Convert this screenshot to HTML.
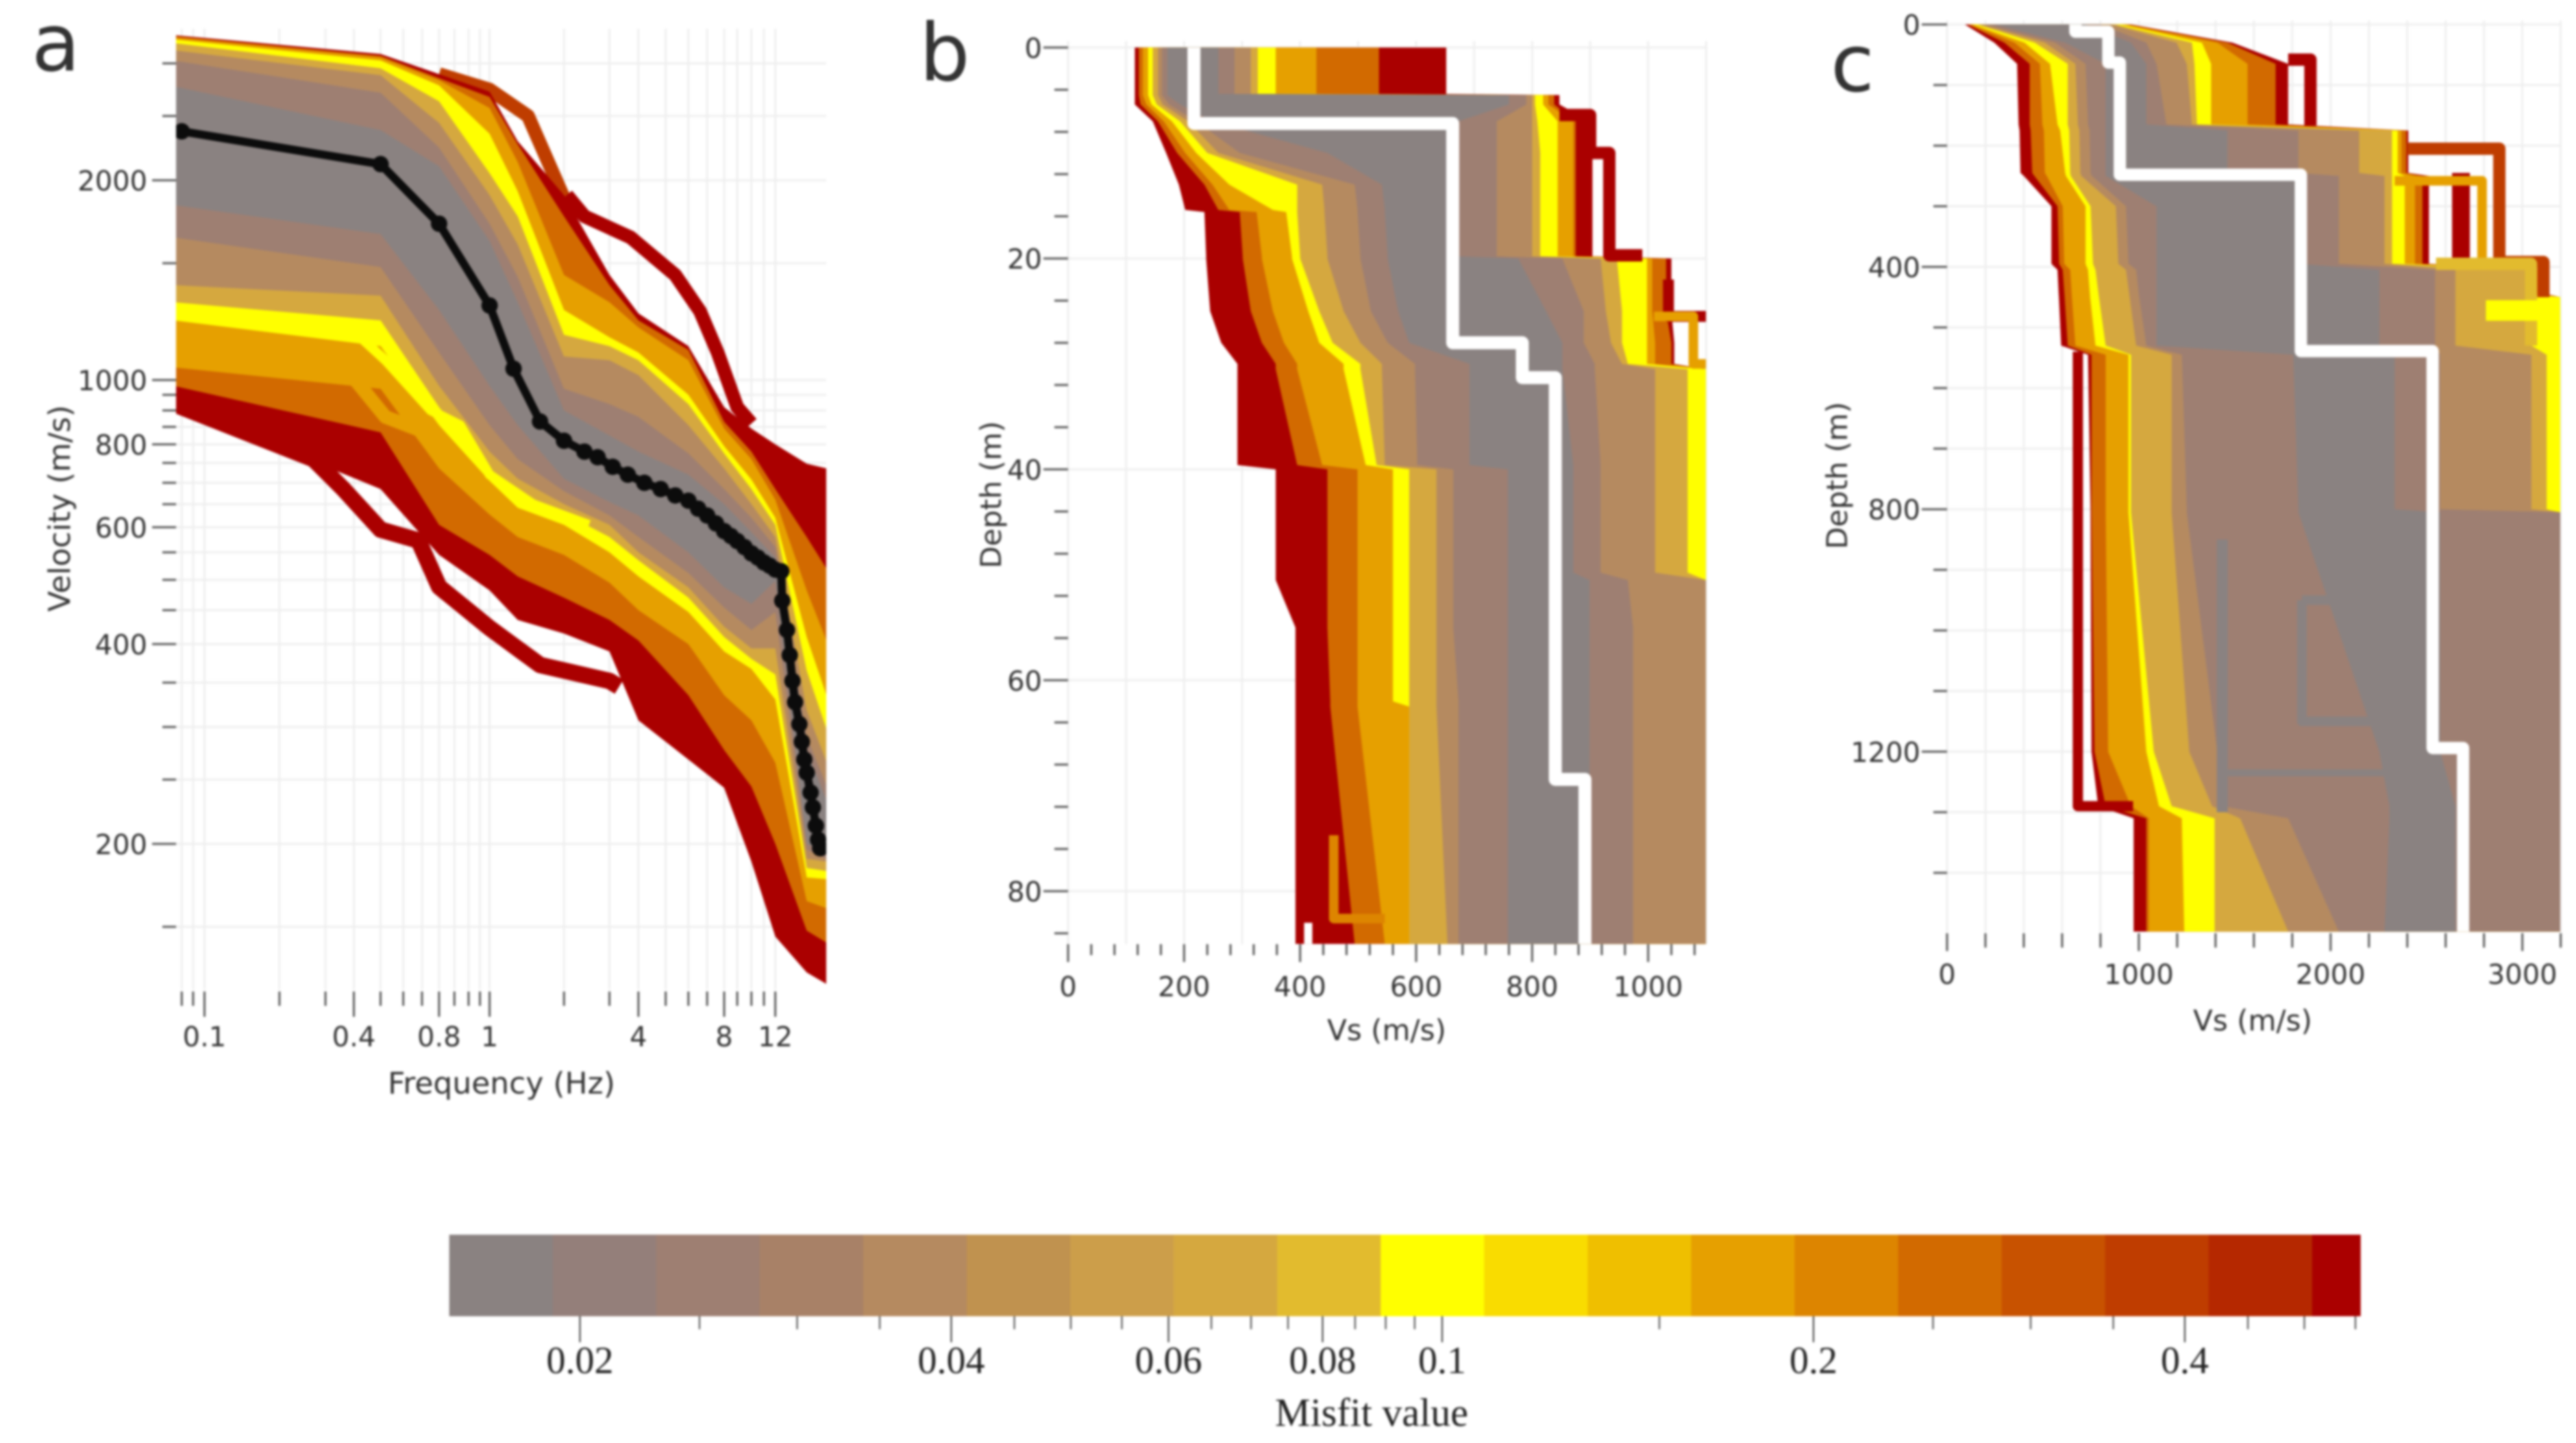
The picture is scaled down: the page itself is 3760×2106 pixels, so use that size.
<!DOCTYPE html>
<html lang="en">
<head>
<meta charset="utf-8">
<title>Dispersion curves and Vs profiles</title>
<style>
html,body{margin:0;padding:0;background:#fff;width:3760px;height:2106px;overflow:hidden}
svg{display:block;filter:blur(1.5px)}
text{font-family:"DejaVu Sans","Liberation Sans",sans-serif;fill:#333}
.serif{font-family:"Liberation Serif",serif;fill:#222}
</style>
</head>
<body>
<svg id="fig" xmlns="http://www.w3.org/2000/svg" width="3760" height="2106" viewBox="0 0 3760 2106">
<defs>
<clipPath id="clipA"><rect x="257" y="30" width="949" height="1430"/></clipPath>
<clipPath id="clipB"><rect x="1559" y="60" width="931" height="1318"/></clipPath>
<clipPath id="clipC"><rect x="2842" y="30" width="895" height="1330"/></clipPath>
</defs>
<g id="panelA"></g>
<g id="panelB"></g>
<g id="panelC"></g>
<g id="colorbar"></g>
<text x="46" y="103" font-size="116">a</text>
<text x="1342" y="117" font-size="116">b</text>
<text x="2672" y="133" font-size="116">c</text>
</svg>
<script>
/* ---------- colour scale ---------- */
const barColors = ['#8a8281','#947f7a','#9e7f72','#a88167','#b58a60','#c0924f','#cc9e4a','#d5a83f','#e2bb2e','#ffff00','#f9dc00','#efbf00','#e6a000','#dd8500','#d26a00','#c85200','#bf3d00','#b52800','#aa0000'];
const barMajorTicks = [0.02,0.04,0.06,0.08,0.1,0.2,0.4];
const barMinorTicks = [0.025,0.03,0.035,0.045,0.05,0.055,0.065,0.07,0.075,0.085,0.09,0.095,0.15,0.25,0.3,0.35,0.45,0.5,0.55];
const barMin = 0.01567, barMax = 0.555, barStep = 0.0839;
const classMisfit = [0.54,0.28,0.16,0.095,0.065,0.04,0.025,0.017];

/* ---------- panel a: dispersion curves ---------- */
const aFreq = [0.076,0.5,0.8,1,1.3,2,3,4,6,8,10,12,15.5,18.2];
const aUpRed      = [3310,3100,2890,2720,2290,1900,1440,1260,1125,910,845,800,748,736];
const aUpDkOrange = [3300,3080,2850,2670,2266,1765,1390,1230,1110,865,780,685,580,520];
const aUpOrange   = [3280,3060,2830,2570,2130,1440,1310,1200,1071,845,760,660,482,405];
const aUpYellow   = [3260,3030,2780,2350,1925,1275,1160,1100,950,795,708,620,410,335];
const aUpGold     = [3220,2950,2630,2050,1765,1170,1125,1071,920,775,685,605,365,298];
const aUpTan      = [3140,2880,2440,1900,1600,1085,1071,1017,855,736,650,580,318,266];
const aUpGreyTan  = [3030,2710,2240,1720,1430,970,920,880,775,685,620,560,290,245];
const aUpGrey     = [2770,2380,2100,1620,1310,900,825,780,720,650,590,540,277,233];
const aLoGrey     = [1835,1660,1275,980,855,710,655,625,550,487,460,498,200,194];
const aLoGreyTan  = [1640,1480,1100,855,760,680,625,580,512,454,420,447,196,190];
const aLoTan      = [1390,1340,980,780,710,650,605,550,487,425,394,394,190,188];
const aLoGold     = [1310,1230,910,736,670,630,580,535,470,410,380,360,184,182];
const aLoYellow   = [1230,1125,855,705,642,605,550,506,447,390,367,330,178,177];
const aLoOrange   = [1045,970,736,627,580,545,495,450,400,335,307,265,164,160];
const aLoDkOrange = [980,834,605,545,506,470,435,405,335,277,244,200,148,142];
const aLoRed      = [920,685,545,482,435,415,390,307,268,243,188,145,128,123];
const aOutlierTop1F = [0.8,1,1.43,2];
const aOutlierTop1V = [2890,2740,2500,1880];
const aOutlierTop2F = [2.05,2.4,3.7,5.4,6.6,7.6,9,10];
const aOutlierTop2V = [1900,1765,1640,1440,1270,1100,910,860];
const aOutlierLowF = [0.076,0.27,0.36,0.5,0.68,0.8,1,1.6,3,3.3];
const aOutlierLowV = [920,760,685,595,573,488,423,372,352,345];
const aStreakYellowF = [0.37,0.52,0.75,0.87,1,1.5,2.5];
const aStreakYellowV = [1213,1071,900,855,720,650,605];
const aStreakOrangeF = [0.39,0.52,0.72,0.87];
const aStreakOrangeV = [1017,880,834,736];
const bestFreq = [0.085,0.5,0.8,1,1.25,1.6,2,2.4,2.7,3.1,3.6,4.2,4.8,5.4,6,6.5,7,7.5,8,8.5,9,9.5,10,10.5,11,11.5,12,12.6,12.7,13.2,13.5,13.8,14.1,14.6,14.9,15.2,15.5,16,16.3,16.7,17,17.3];
const bestVel  = [2370,2115,1720,1295,1040,866,810,780,765,740,720,700,685,670,658,640,625,608,592,582,572,560,548,540,531,525,518,515,465,420,385,352,327,303,285,268,256,239,227,213,203,197];
const aXLabels = [0.1,0.4,0.8,1,4,8,12];
const aXMinor = [0.085,0.09,0.2,0.3,0.5,0.6,0.7,0.85,0.9,0.95,2,3,5,6,7,9,10,11];
const aYLabels = [2000,1000,800,600,400,200];
const aYMinor = [3000,2500,1500,950,900,850,750,700,650,550,500,450,350,300,250,150];

/* ---------- panel b: shallow Vs profiles ---------- */
const bDepth = [0,4.4,4.5,5.4,7,10,13,15.4,15.6,19.8,20,25,28,30,30.5,39.6,40,49.8,50.5,55,62,62.5,85];
const bLeftRed      = [115,115,115,115,146,169,191,202,235,238,238,245,264,292,292,292,358,358,358,392,392,392,392];
const bLeftDkOrange = [122,122,122,125,155,188,235,259,296,301,301,315,334,358,358,395,447,447,447,447,452,452,494];
const bLeftOrange   = [129,129,129,135,165,202,249,278,325,334,334,353,372,395,395,438,499,499,499,499,499,499,546];
const bLeftYellow   = [138,138,138,144,179,221,278,353,376,386,386,414,433,475,475,513,560,560,560,560,560,588,588];
const bLeftGold     = [146,146,146,153,193,240,395,395,395,400,400,433,456,504,504,532,588,588,588,588,588,588,588];
const bLeftTan      = [155,155,155,163,207,259,438,442,442,447,447,475,504,541,541,546,635,635,635,635,635,635,654];
const bLeftGreyTan  = [162,162,162,174,221,296,494,499,499,504,504,522,551,598,598,602,664,664,664,664,673,673,673];
const bLeftGrey     = [171,171,171,193,249,447,541,546,546,551,551,569,588,692,692,692,758,758,758,758,758,758,758];
const bRightGrey     = [259,259,760,760,673,673,673,673,673,673,776,824,852,852,852,871,871,871,899,899,899,899,899];
const bRightGreyTan  = [287,287,790,790,739,739,739,739,739,739,852,889,889,908,908,918,918,918,965,974,974,974,974];
const bRightTan      = [315,315,800,800,800,800,800,800,800,800,918,927,936,955,1012,1012,1012,1012,1100,1100,1100,1100,1100];
const bRightGold     = [327,327,805,805,809,814,814,814,814,814,946,955,955,965,1068,1068,1068,1068,1100,1100,1100,1100,1100];
const bRightYellow   = [358,358,819,819,844,844,844,844,844,844,998,998,998,998,1100,1100,1100,1100,1100,1100,1100,1100,1100];
const bRightOrange   = [428,428,828,828,871,871,871,871,871,871,1007,1007,1012,1012,1100,1100,1100,1100,1100,1100,1100,1100,1100];
const bRightDkOrange = [536,536,838,838,875,875,875,875,875,875,1031,1031,1040,1040,1100,1100,1100,1100,1100,1100,1100,1100,1100];
const bRightRed      = [652,652,847,847,899,904,904,904,904,904,1040,1040,1045,1045,1100,1100,1100,1100,1100,1100,1100,1100,1100];
const bBestVs = [217,217,663,663,783,783,840,840,891,891];
const bBestD  = [0,7.2,7.2,28,28,31.3,31.3,69.4,69.4,85];
const bOut1Vs = [847,900,900,933,933,990];
const bOut1D  = [6.4,6.4,10,10,19.7,19.7];
const bOut2Vs = [1035,1035,1100];
const bOut2D  = [22,25.5,25.5];
const bOut3Vs = [1010,1078,1078,1100];
const bOut3D  = [25.5,25.5,30,30];
const bOut4Vs = [458,458,546];
const bOut4D  = [74.7,82.6,82.6];
const bGapVs = [414,414];
const bGapD  = [83,85];
const bXLabels = [0,200,400,600,800,1000];
const bYLabels = [0,20,40,60,80];

/* ---------- panel c: deep Vs profiles ---------- */
const cDepth = [0,30,65,165,175,245,250,300,395,405,445,450,530,545,800,805,1200,1290,1310,1497];
const cLeftRed      = [93,246,365,373,378,383,400,544,544,576,582,583,595,735,748,748,753,788,973,973];
const cLeftDkOrange = [108,299,431,431,436,444,455,576,584,603,612,613,629,753,753,753,769,827,1039,1039];
const cLeftOrange   = [119,352,484,497,505,510,520,603,611,642,650,651,669,827,827,827,840,959,1052,1052];
const cLeftYellow   = [135,404,537,576,590,616,620,722,722,735,745,746,774,946,946,946,1039,1105,1224,1237];
const cLeftGold     = [153,457,629,629,637,642,645,748,761,774,790,792,827,959,959,959,1078,1171,1395,1395];
const cLeftTan      = [172,510,669,682,690,695,700,880,893,933,950,952,986,1171,1171,1171,1263,1382,1528,1779];
const cLeftGreyTan  = [193,563,722,735,743,748,755,933,946,986,1000,1002,1039,1224,1250,1250,1409,1435,1779,2043];
const cLeftGrey     = [246,616,827,827,827,827,827,1092,1092,1092,1092,1092,1092,1805,1832,1832,2254,2307,2307,2281];
const cRightGrey     = [722,959,1039,1039,1462,1462,1832,1832,1832,2254,2254,2254,2254,2334,2334,2572,2572,2651,2651,2651];
const cRightGreyTan  = [801,1039,1092,1144,1832,1832,2043,2043,2043,2545,2545,2545,2545,2572,2572,3198,3198,3198,3198,3198];
const cRightTan      = [854,1197,1250,1277,2149,2149,2281,2281,2281,2651,2651,2651,2651,3047,3047,3198,3198,3198,3198,3198];
const cRightGold     = [880,1277,1290,1303,2320,2320,2321,2321,2321,3047,3047,3047,3047,3127,3127,3198,3198,3198,3198,3198];
const cRightYellow   = [907,1329,1377,1377,2350,2350,2387,2387,2387,3060,3060,3198,3198,3198,3198,3198,3198,3198,3198,3198];
const cRightOrange   = [933,1409,1567,1567,2370,2370,2440,2440,2440,3080,3080,3198,3198,3198,3198,3198,3198,3198,3198,3198];
const cRightDkOrange = [946,1462,1713,1713,2395,2395,2479,2479,2479,3100,3100,3198,3198,3198,3198,3198,3198,3198,3198,3198];
const cRightRed      = [959,1488,1779,1779,2405,2405,2513,2513,2513,3127,3127,3198,3198,3198,3198,3198,3198,3198,3198,3198];
const cBestVs = [669,669,841,841,901,901,1845,1845,2532,2532,2691,2691];
const cBestD  = [0,12,12,63,63,248,248,539,539,1194,1194,1497];
const cOut1Vs = [682,682,970];
const cOut1D  = [540,1290,1290];
const cOut2Vs = [1779,1895,1895];
const cOut2D  = [58,58,167];
const cOut3Vs = [2400,2880,2880,3110,3110];
const cOut3D  = [205,205,392,392,450];
const cOut4Vs = [2680,2680];
const cOut4D  = [245,392];
const cOut5Vs = [2334,2790,2790];
const cOut5D  = [258,258,392];
const cOut6Vs = [2550,3045,3045];
const cOut6D  = [395,395,530];
const cOut7Vs = [2810,3198];
const cOut7D  = [472,472];
const cTex1Vs = [1435,1435];
const cTex1D  = [850,1300];
const cTex2Vs = [1435,2560];
const cTex2D  = [1235,1235];
const cTex3Vs = [1850,2254,2254,1850,1850];
const cTex3D  = [950,950,1150,1150,950];
const cXLabels = [0,1000,2000,3000];
const cXMinor = [200,400,600,800,1200,1400,1600,1800,2200,2400,2600,2800,3200];
const cYLabels = [0,400,800,1200];
const cYMinor = [100,200,300,500,600,700,900,1000,1100,1300,1400];

/* ---------- axis functions ---------- */
function xA(f){
  const kf=[0.076,0.085,0.09,0.1,0.2,0.3,0.4,0.5,0.6,0.7,0.8,0.85,0.9,0.95,1,2,3,4,5,6,7,8,9,10,11,12,18.2];
  const kx=[306,320,340,360,492,573,623,670,710,743,773,800,825,845,862,993,1073,1124,1172,1212,1245,1275,1298,1323,1345,1365,1455];
  let i=0;
  while(i<kf.length-2 && f>kf[i+1]) i++;
  const t=(Math.log10(f)-Math.log10(kf[i]))/(Math.log10(kf[i+1])-Math.log10(kf[i]));
  return (kx[i]+t*(kx[i+1]-kx[i]))/1.2062;
}
function yA(v){return (250+920.4*Math.log10(2000/v))/0.9503;}
function xB(v){return 1559+0.8467*v;}
function yB(d){return 69.4+15.39*d;}
function xC(v){return 2842+0.2799*v;}
function yC(d){return 35.7+0.8844*d;}
function xBar(v){return 846.5+1800.5*Math.log10(v/0.02);}
function misfitColor(m){
  const i=Math.floor(Math.log10(m/barMin)/barStep);
  return barColors[Math.max(0,Math.min(barColors.length-1,i))];
}

/* ---------- drawing helpers ---------- */
const NS='http://www.w3.org/2000/svg';
function node(tag,attrs,parent){
  const el=document.createElementNS(NS,tag);
  for(const k in attrs) el.setAttribute(k,attrs[k]);
  parent.appendChild(el);
  return el;
}
function gridLine(p,x1,y1,x2,y2){
  const el=node('line',{x1,y1,x2,y2,stroke:'#efefef','stroke-width':3},p);
  
  
}
function tickLine(p,x1,y1,x2,y2){
  const el=node('line',{x1,y1,x2,y2,stroke:'#5a5a5a','stroke-width':3},p);
  
  
}
function tickText(p,x,y,str,anchor,size){
  const el=node('text',{x,y,'text-anchor':anchor,'font-size':size},p);
  el.textContent=str;
  
  
}
function axisTitle(p,x,y,str,rot,name,size){
  const attrs={x,y,'text-anchor':'middle','font-size':size};
  if(rot) attrs.transform='rotate(-90 '+x+' '+y+')';
  const el=node('text',attrs,p);
  el.textContent=str;
  
  
}
function polygonFrom(p,xs,ys,color){
  const pts=xs.map((x,i)=>x.toFixed(1)+','+ys[i].toFixed(1)).join(' ');
  const el=node('polygon',{points:pts,fill:color},p);
  
  
}
function stroked(p,xs,ys,color,w,name){
  const pts=xs.map((x,i)=>x.toFixed(1)+','+ys[i].toFixed(1)).join(' ');
  const el=node('polyline',{points:pts,fill:'none',stroke:color,'stroke-width':w,'stroke-linejoin':'round'},p);
  
  
}

/* ---------- panel a ---------- */
(function(){
  const g=document.getElementById('panelA');
  aXLabels.concat(aXMinor).forEach(f=>gridLine(g,xA(f),42,xA(f),1444));
  aYLabels.concat(aYMinor).forEach(v=>gridLine(g,257,yA(v),1206,yA(v)));
  const clip=node('g',{'clip-path':'url(#clipA)'},g);
  const ups=[aUpRed,aUpDkOrange,aUpOrange,aUpYellow,aUpGold,aUpTan,aUpGreyTan,aUpGrey];
  const los=[aLoRed,aLoDkOrange,aLoOrange,aLoYellow,aLoGold,aLoTan,aLoGreyTan,aLoGrey];
  stroked(clip,aOutlierTop1F.map(xA),aOutlierTop1V.map(yA),misfitColor(0.4),20,'outlier-dispersion-curve');
  stroked(clip,aOutlierTop2F.map(xA),aOutlierTop2V.map(yA),misfitColor(0.54),20,'outlier-dispersion-curve');
  stroked(clip,aOutlierLowF.map(xA),aOutlierLowV.map(yA),misfitColor(0.54),24,'outlier-dispersion-curve');
  ups.forEach((up,k)=>{
    const xs=aFreq.map(xA).concat(aFreq.map(xA).reverse());
    const ys=up.map(yA).concat(los[k].map(yA).reverse());
    polygonFrom(clip,xs,ys,misfitColor(classMisfit[k]));
  });
  stroked(clip,aStreakOrangeF.map(xA),aStreakOrangeV.map(yA),misfitColor(0.16),20,'dispersion-curve-streak');
  stroked(clip,aStreakYellowF.map(xA),aStreakYellowV.map(yA),misfitColor(0.095),14,'dispersion-curve-streak');
  stroked(clip,bestFreq.map(xA),bestVel.map(yA),'#0c0c0c',12,'best-fit-dispersion-curve');
  bestFreq.forEach((f,i)=>{
    const c=node('circle',{cx:xA(f),cy:yA(bestVel[i]),r:12,fill:'#0c0c0c'},clip);
    
    
  });
  aXLabels.forEach(f=>{tickLine(g,xA(f),1447,xA(f),1484);tickText(g,xA(f),1527,String(f),'middle',40);});
  aXMinor.forEach(f=>tickLine(g,xA(f),1447,xA(f),1468));
  aYLabels.forEach(v=>{tickLine(g,222,yA(v),257,yA(v));tickText(g,215,yA(v)+15,String(v),'end',40);});
  aYMinor.forEach(v=>tickLine(g,237,yA(v),257,yA(v)));
  axisTitle(g,732,1596,'Frequency (Hz)',false,'x-axis-title',44);
  axisTitle(g,102,742,'Velocity (m/s)',true,'y-axis-title',44);
})();

/* ---------- profile panels ---------- */
function drawProfilePanel(g,clipId,xf,yf,depth,lefts,rights){
  const clip=node('g',{'clip-path':'url(#'+clipId+')'},g);
  lefts.forEach((l,k)=>{
    const xs=l.map(xf).concat(rights[k].map(xf).reverse());
    const ys=depth.map(yf).concat(depth.map(yf).reverse());
    polygonFrom(clip,xs,ys,misfitColor(classMisfit[k]));
  });
  return clip;
}
(function(){
  const g=document.getElementById('panelB');
  for(let v=0;v<=1100;v+=200) gridLine(g,xB(v),60,xB(v),1378);
  for(let v=100;v<=1100;v+=200) gridLine(g,xB(v),60,xB(v),1378);
  bYLabels.forEach(d=>gridLine(g,1559,yB(d),2490,yB(d)));
  const clip=drawProfilePanel(g,'clipB',xB,yB,bDepth,
    [bLeftRed,bLeftDkOrange,bLeftOrange,bLeftYellow,bLeftGold,bLeftTan,bLeftGreyTan,bLeftGrey],
    [bRightRed,bRightDkOrange,bRightOrange,bRightYellow,bRightGold,bRightTan,bRightGreyTan,bRightGrey]);
  stroked(clip,bOut1Vs.map(xB),bOut1D.map(yB),misfitColor(0.54),18,'outlier-vs-profile');
  stroked(clip,bOut2Vs.map(xB),bOut2D.map(yB),misfitColor(0.54),16,'outlier-vs-profile');
  stroked(clip,bOut3Vs.map(xB),bOut3D.map(yB),misfitColor(0.16),14,'outlier-vs-profile');
  stroked(clip,bOut4Vs.map(xB),bOut4D.map(yB),misfitColor(0.2),14,'outlier-vs-profile');
  stroked(clip,bGapVs.map(xB),bGapD.map(yB),'#ffffff',12,'profile-gap');
  stroked(clip,bBestVs.map(xB),bBestD.map(yB),'#ffffff',19,'best-fit-vs-profile');
  for(let v=0;v<=1100;v+=40){
    const major=bXLabels.indexOf(v)>=0;
    tickLine(g,xB(v),1378,xB(v),major?1404:1394);
  }
  bXLabels.forEach(v=>tickText(g,xB(v),1454,String(v),'middle',40));
  for(let d=0;d<=84;d+=4){
    const major=bYLabels.indexOf(d)>=0;
    tickLine(g,major?1523:1539,yB(d),1559,yB(d));
  }
  bYLabels.forEach(d=>tickText(g,1521,yB(d)+15,String(d),'end',40));
  axisTitle(g,2024,1518,'Vs (m/s)',false,'x-axis-title',42);
  axisTitle(g,1461,722,'Depth (m)',true,'y-axis-title',42);
})();
(function(){
  const g=document.getElementById('panelC');
  cXLabels.concat(cXMinor).forEach(v=>gridLine(g,xC(v),30,xC(v),1360));
  cYLabels.concat(cYMinor).forEach(d=>gridLine(g,2842,yC(d),3737,yC(d)));
  const clip=drawProfilePanel(g,'clipC',xC,yC,cDepth,
    [cLeftRed,cLeftDkOrange,cLeftOrange,cLeftYellow,cLeftGold,cLeftTan,cLeftGreyTan,cLeftGrey],
    [cRightRed,cRightDkOrange,cRightOrange,cRightYellow,cRightGold,cRightTan,cRightGreyTan,cRightGrey]);
  stroked(clip,cTex1Vs.map(xC),cTex1D.map(yC),misfitColor(0.017),16,'outlier-vs-profile');
  stroked(clip,cTex2Vs.map(xC),cTex2D.map(yC),misfitColor(0.017),10,'outlier-vs-profile');
  stroked(clip,cTex3Vs.map(xC),cTex3D.map(yC),misfitColor(0.017),14,'outlier-vs-profile');
  stroked(clip,cOut1Vs.map(xC),cOut1D.map(yC),misfitColor(0.54),15,'outlier-vs-profile');
  stroked(clip,cOut2Vs.map(xC),cOut2D.map(yC),misfitColor(0.54),18,'outlier-vs-profile');
  stroked(clip,cOut3Vs.map(xC),cOut3D.map(yC),misfitColor(0.4),18,'outlier-vs-profile');
  stroked(clip,cOut4Vs.map(xC),cOut4D.map(yC),misfitColor(0.54),26,'outlier-vs-profile');
  stroked(clip,cOut5Vs.map(xC),cOut5D.map(yC),misfitColor(0.16),14,'outlier-vs-profile');
  stroked(clip,cOut6Vs.map(xC),cOut6D.map(yC),misfitColor(0.08),18,'outlier-vs-profile');
  stroked(clip,cOut7Vs.map(xC),cOut7D.map(yC),misfitColor(0.095),30,'outlier-vs-profile');
  stroked(clip,cBestVs.map(xC),cBestD.map(yC),'#ffffff',18,'best-fit-vs-profile');
  cXLabels.forEach(v=>{tickLine(g,xC(v),1362,xC(v),1388);tickText(g,xC(v),1436,String(v),'middle',40);});
  cXMinor.forEach(v=>tickLine(g,xC(v),1362,xC(v),1383));
  cYLabels.forEach(d=>{tickLine(g,2805,yC(d),2842,yC(d));tickText(g,2803,yC(d)+15,String(d),'end',40);});
  cYMinor.forEach(d=>tickLine(g,2822,yC(d),2842,yC(d)));
  axisTitle(g,3288,1504,'Vs (m/s)',false,'x-axis-title',42);
  axisTitle(g,2696,694,'Depth (m)',true,'y-axis-title',42);
})();

/* ---------- colour bar ---------- */
(function(){
  const g=document.getElementById('colorbar');
  barColors.forEach((c,i)=>{
    const v0=barMin*Math.pow(10,i*barStep);
    const v1=Math.min(barMax,barMin*Math.pow(10,(i+1)*barStep));
    const r=node('rect',{x:xBar(v0),y:1802,width:xBar(v1)-xBar(v0)+0.6,height:119,fill:c},g);
    
    
  });
  barMajorTicks.forEach(v=>{
    const l=node('line',{x1:xBar(v),y1:1921,x2:xBar(v),y2:1959,stroke:'#333','stroke-width':2},g);
    
    
    const t=node('text',{x:xBar(v),y:2004,'text-anchor':'middle','font-size':56,class:'serif'},g);
    t.textContent=String(v);
    
    
  });
  barMinorTicks.forEach(v=>{
    const l=node('line',{x1:xBar(v),y1:1921,x2:xBar(v),y2:1940,stroke:'#444','stroke-width':2},g);
    
    
  });
  const title=node('text',{x:2002,y:2081,'text-anchor':'middle','font-size':58,class:'serif'},g);
  title.textContent='Misfit value';
  
  
})();
</script>
</body>
</html>
